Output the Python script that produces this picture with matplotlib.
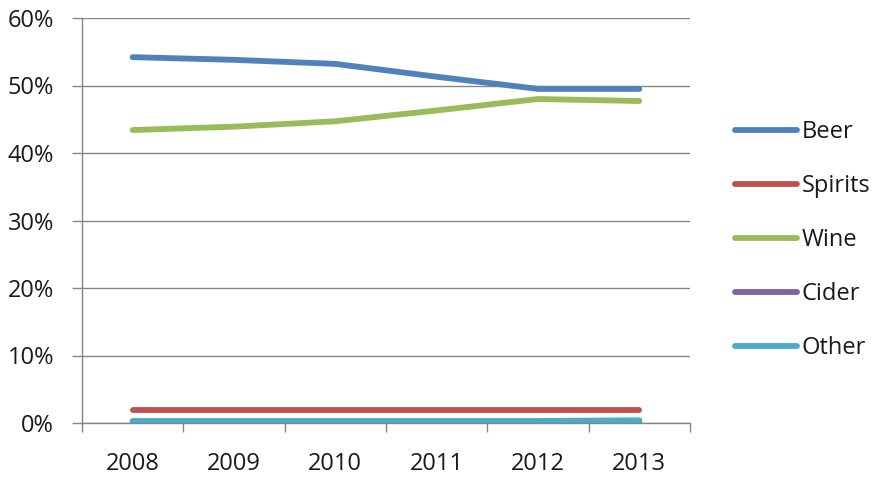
import matplotlib
matplotlib.use("Agg")
import matplotlib.pyplot as plt
from matplotlib.ticker import FixedLocator, PercentFormatter

years = ["2008", "2009", "2010", "2011", "2012", "2013"]
beer = [54.2, 53.8, 53.2, 51.3, 49.5, 49.5]
spirits = [2.0, 2.0, 2.0, 2.0, 2.0, 2.0]
wine = [43.4, 43.9, 44.7, 46.3, 48.0, 47.7]
cider = [0.1, 0.1, 0.1, 0.1, 0.1, 0.2]
other = [0.3, 0.3, 0.3, 0.3, 0.3, 0.4]

series = [("Beer", beer, "#4F81BD"), ("Spirits", spirits, "#C0504D"),
          ("Wine", wine, "#9BBB59"), ("Cider", cider, "#8064A2"),
          ("Other", other, "#4BACC6")]

plt.rcParams['font.family'] = ['Open Sans', 'DejaVu Sans']
fig = plt.figure(figsize=(8.76, 4.80), dpi=100)
ax = fig.add_axes([82/876, 1-423/480, (690-82)/876, (423-18)/480])

x = list(range(len(years)))
for name, vals, col in series:
    ax.plot(x, vals, color=col, lw=4.2, label=name, solid_capstyle='round',
            solid_joinstyle='round')

ax.set_xlim(-0.5, len(years)-0.5)
ax.set_ylim(0, 60)
ax.set_yticks(range(0, 61, 10))
ax.yaxis.set_major_formatter(PercentFormatter(decimals=0))
ax.set_xticks(x)
ax.set_xticklabels(years)
ax.xaxis.set_minor_locator(FixedLocator([i - 0.5 for i in range(len(years)+1)]))
ax.tick_params(axis='x', which='major', length=0, pad=21, labelsize=17, labelcolor='#1a1a1a')
ax.tick_params(axis='x', which='minor', length=6.5, width=1, color='#868686', direction='out')
ax.tick_params(axis='y', length=7, width=1, color='#868686', labelsize=17, pad=13,
               labelcolor='#1a1a1a')
ax.grid(axis='y', color='#868686', lw=1)
ax.set_axisbelow(True)
for s in ['top', 'right']:
    ax.spines[s].set_visible(False)
for s in ['left', 'bottom']:
    ax.spines[s].set_color('#868686')
    ax.spines[s].set_linewidth(1)

leg = fig.legend(loc='center left', bbox_to_anchor=(735/876, 1-240/480),
                 frameon=False, fontsize=17, handlelength=2.63, handletextpad=0.2,
                 labelspacing=1.27, borderpad=0, borderaxespad=0)
for t in leg.get_texts():
    t.set_color('#1a1a1a')

fig.savefig("out.png", dpi=100)
